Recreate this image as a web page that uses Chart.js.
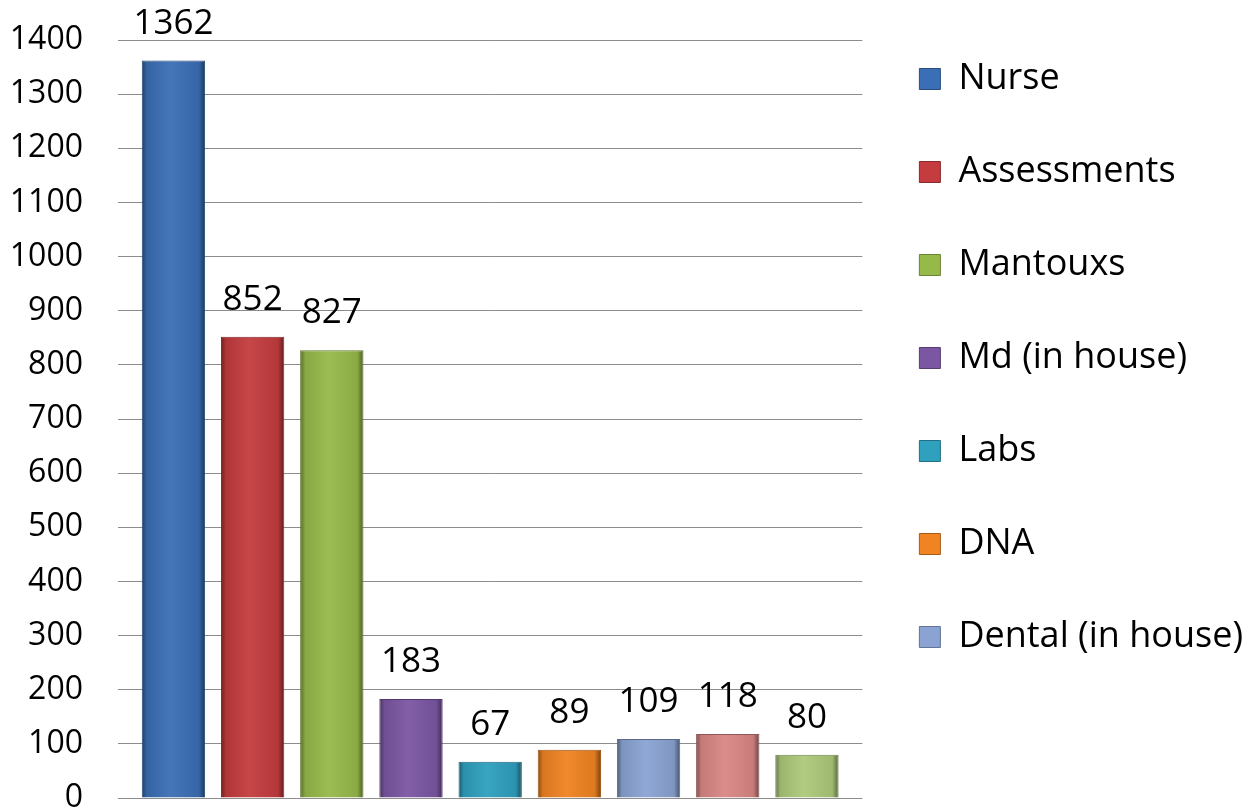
<!DOCTYPE html>
<html>
<head>
<meta charset="utf-8">
<script src="https://cdn.jsdelivr.net/npm/chart.js@4/dist/chart.umd.min.js"></script>
<style>
  html, body { margin: 0; padding: 0; background: #fff; }
  #wrap { width: 1253px; height: 810px; }
</style>
</head>
<body>
<div id="wrap"><canvas id="chart"></canvas></div>
<script>
// values
const categories = ["Nurse", "Assessments", "Mantouxs", "Md (in house)", "Labs", "DNA", "Dental (in house)", "", ""]
const values = [1362, 852, 827, 183, 67, 89, 109, 118, 80]
const legendLabels = categories.slice(0, 7)
const barColors = ["#3b6fb5", "#c43c3e", "#96ba4a", "#7b57a3", "#2fa0be", "#f08322", "#8aa3d3", "#d98785", "#adc97a"]
const yTicks = [0, 100, 200, 300, 400, 500, 600, 700, 800, 900, 1000, 1100, 1200, 1300, 1400]

const FONT = "'Open Sans', 'DejaVu Sans', sans-serif"

// lighten (f > 0) or darken (f < 0) a hex colour
function shade(hex, f) {
  const n = parseInt(hex.slice(1), 16)
  let r = (n >> 16) & 255, g = (n >> 8) & 255, b = n & 255
  const t = f < 0 ? 0 : 255
  const p = Math.abs(f)
  r = Math.round(r + (t - r) * p)
  g = Math.round(g + (t - g) * p)
  b = Math.round(b + (t - b) * p)
  return `rgb(${r}, ${g}, ${b})`
}

// soft bevel look: darker edges, lighter middle
function barFill(ctx) {
  const base = barColors[ctx.dataIndex]
  const chart = ctx.chart
  const xs = chart.scales && chart.scales.x
  if (!xs || !chart.chartArea) return base
  const cx = xs.getPixelForValue(ctx.dataIndex)
  const half = (xs.getPixelForValue(1) - xs.getPixelForValue(0)) * 0.4
  const g = chart.ctx.createLinearGradient(cx - half, 0, cx + half, 0)
  g.addColorStop(0, shade(base, -0.45))
  g.addColorStop(0.08, shade(base, -0.1))
  g.addColorStop(0.45, shade(base, 0.05))
  g.addColorStop(0.9, shade(base, -0.08))
  g.addColorStop(1, shade(base, -0.5))
  return g
}

// numbers above each bar
const valueLabels = {
  id: "valueLabels",
  afterDatasetsDraw(chart) {
    const { ctx } = chart
    const meta = chart.getDatasetMeta(0)
    ctx.save()
    ctx.font = `35px ${FONT}`
    ctx.fillStyle = "#000"
    ctx.textAlign = "center"
    ctx.textBaseline = "middle"
    meta.data.forEach((bar, i) => {
      ctx.fillText(String(values[i]), bar.x, bar.y - 37)
    })
    ctx.restore()
  },
}

new Chart(document.getElementById("chart"), {
  type: "bar",
  data: {
    labels: categories,
    datasets: [
      {
        data: values.map((v, i) => ({ x: i, y: v })),
        backgroundColor: barFill,
        borderColor: barColors.map((c) => shade(c, -0.35)),
        borderWidth: 1,
        categoryPercentage: 1,
        barPercentage: 0.8,
      },
    ],
  },
  options: {
    responsive: true,
    maintainAspectRatio: false,
    animation: false,
    layout: { padding: { top: 4 } },
    scales: {
      x: {
        type: "linear",
        display: false,
        offset: false,
        min: -0.7,
        max: 8.7,
        afterBuildTicks: (scale) => {
          scale.ticks = values.map((v, i) => ({ value: i }))
        },
      },
      y: {
        min: 0,
        max: 1400,
        afterBuildTicks: (scale) => {
          scale.ticks = yTicks.map((v) => ({ value: v }))
        },
        afterFit: (scale) => {
          scale.width = 118
          scale.paddingTop = 40
          scale.paddingBottom = 12
        },
        grid: { color: "#8c8c8c", lineWidth: 1, drawTicks: false },
        border: { display: false },
        ticks: {
          color: "#000",
          padding: 35,
          font: { family: FONT, size: 32 },
          callback: (value) => String(value),
        },
      },
    },
    plugins: {
      tooltip: { enabled: false },
      legend: {
        position: "right",
        align: "start",
        maxWidth: 396,
        labels: {
          color: "#000",
          font: { family: FONT, size: 36 },
          boxWidth: 21,
          boxHeight: 21,
          padding: 57,
          generateLabels: () =>
            legendLabels.map((name, i) => ({
              text: name,
              fillStyle: barColors[i],
              strokeStyle: shade(barColors[i], -0.3),
              lineWidth: 1,
              hidden: false,
              index: i,
            })),
        },
      },
    },
  },
  plugins: [valueLabels],
})
</script>
</body>
</html>
